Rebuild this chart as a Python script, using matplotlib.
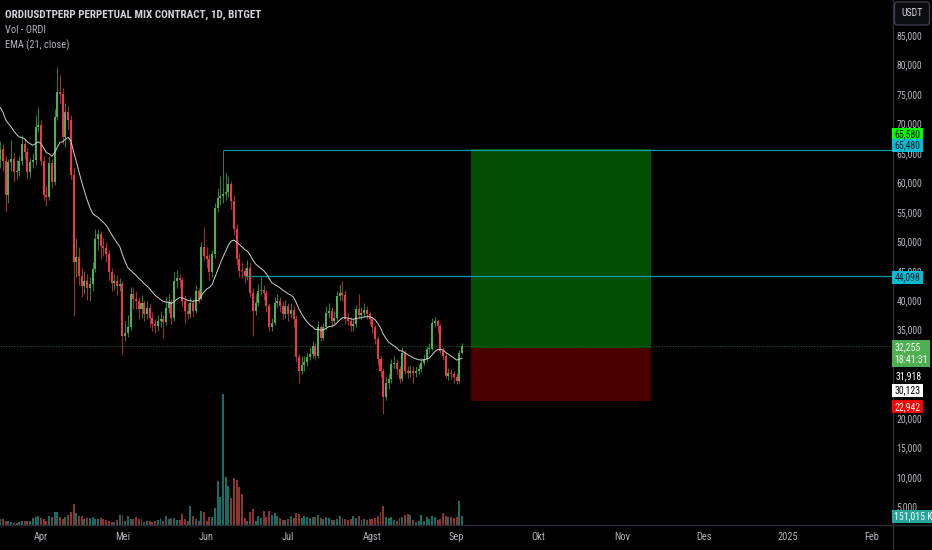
import numpy as np
import pandas as pd
import matplotlib
matplotlib.use("Agg")
import matplotlib.pyplot as plt
import matplotlib.dates as mdates
from matplotlib.patches import Rectangle, FancyBboxPatch
from matplotlib.lines import Line2D
from matplotlib.transforms import IdentityTransform

plt.rcParams['font.family'] = ['Roboto Condensed', 'Roboto', 'DejaVu Sans']

# ---- data (ORDI perp, daily) ----
start_date = "2024-03-17"
first_open = 64000
closes = [65700, 63700, 57800, 63400, 64000, 61800, 62000, 63700, 66500, 65100,
          61700, 63400, 63800, 69400, 69800, 63700, 57800, 57500, 63200, 60000,
          71100, 75400, 75000, 67700, 72000, 70500, 61300, 46400, 47300, 44100,
          42400, 43200, 42100, 42700, 45250, 50300, 51200, 49200, 48900, 47800,
          44700, 43000, 43300, 42400, 42700, 33950, 34500, 35400, 41000, 40200,
          39900, 38500, 39500, 37600, 38700, 37000, 35900, 35600, 36500, 36800,
          36300, 38600, 39700, 36900, 43300, 43700, 43500, 39900, 38200, 37600,
          39600, 38200, 41600, 40200, 49000, 47500, 47000, 44700, 47800, 55700,
          57400, 57700, 58000, 58300, 59700, 56800, 52000, 47000, 45000, 44900,
          44100, 45500, 41300, 38200, 39600, 41600, 41800, 41300, 39000, 35400,
          36200, 39600, 39800, 39000, 37600, 39000, 37600, 38300, 36800, 30300,
          28000, 29000, 29500, 30300, 30800, 32300, 30500, 35400, 33600, 35400,
          37900, 38200, 36500, 37000, 40700, 41300, 40800, 36800, 36500, 35600,
          35900, 38500, 37500, 37900, 38400, 37600, 36800, 35400, 33400, 30000,
          28000, 23500, 26000, 26600, 29100, 29400, 28300, 26600, 31100, 28000,
          27700, 28000, 27600, 28000, 28300, 29400, 30000, 31700, 31800, 36200,
          36500, 35600, 31400, 30600, 27200, 27700, 27500, 26900, 26300, 31100,
          32255]
highs = [67000, 66500, 64500, 64000, 67200, 65000, 63800, 64500, 68000, 67500,
         65800, 64200, 65000, 71500, 72800, 70500, 64500, 59500, 64500, 64000,
         72500, 79500, 78200, 76000, 73500, 73000, 71500, 62500, 50500, 49000,
         45500, 45000, 44500, 44000, 46500, 52000, 52000, 51800, 50500, 49800,
         48500, 45500, 44500, 44200, 43800, 43200, 36500, 37500, 42200, 42000,
         41500, 40500, 40800, 40000, 39800, 39500, 38000, 36800, 37500, 38200,
         37500, 40500, 41000, 40200, 44800, 45200, 44500, 44000, 40800, 39500,
         40500, 40200, 42500, 42000, 49800, 52500, 49000, 47800, 48500, 56500,
         59000, 61000, 65480, 61500, 61000, 60200, 57800, 53000, 48000, 46500,
         45500, 46800, 46500, 42000, 41000, 42800, 44000, 42500, 41800, 39500,
         37000, 40500, 41000, 40500, 39800, 40000, 39500, 39500, 39000, 37500,
         30800, 30500, 30500, 31000, 32000, 33000, 32800, 36500, 35800, 36200,
         39000, 39500, 38800, 38200, 41500, 42800, 43300, 41800, 37800, 37200,
         36800, 39200, 41000, 38800, 39500, 39000, 38200, 37200, 35800, 34000,
         30500, 28500, 27000, 27500, 30000, 30500, 30000, 28800, 32000, 31500,
         28800, 29000, 28800, 28800, 29200, 30200, 30800, 32300, 32800, 37000,
         37200, 36800, 36000, 32000, 31000, 28500, 28400, 28000, 27500, 31500,
         32800]
lows = [62500, 62000, 55000, 56500, 62000, 60000, 60500, 61000, 63000, 64000,
        60500, 60800, 62500, 63000, 68500, 63000, 57000, 56000, 57000, 59000,
        59500, 70500, 73500, 66500, 66000, 69000, 60500, 37300, 44000, 42500,
        40500, 41000, 40000, 39800, 41500, 44800, 48500, 47000, 47500, 46500,
        43500, 41500, 41800, 40800, 41500, 30800, 33000, 33800, 35000, 38500,
        38500, 36800, 37000, 36500, 36800, 35500, 34800, 34500, 34800, 35500,
        33500, 35800, 37800, 36000, 36500, 42000, 42000, 39000, 36000, 36800,
        37000, 37200, 37800, 39500, 40000, 46800, 45500, 43500, 44000, 47200,
        55000, 56200, 56500, 57000, 57500, 55500, 51000, 46000, 44000, 43800,
        43000, 43500, 40500, 34000, 37500, 39000, 40800, 40000, 38000, 34800,
        34800, 35800, 38800, 38000, 36800, 37000, 36500, 37000, 35500, 29500,
        26000, 27500, 28000, 28800, 29800, 30200, 29800, 30200, 33000, 33200,
        35000, 37000, 35500, 36000, 36500, 40000, 39800, 36000, 35800, 34800,
        34800, 35500, 37000, 36800, 37200, 36800, 36000, 34500, 32500, 29000,
        27000, 20700, 23000, 25000, 26000, 28500, 27500, 26000, 26300, 27500,
        26800, 27000, 26000, 27000, 27500, 27800, 29000, 29500, 31000, 31500,
        35500, 34500, 31000, 29800, 26800, 26500, 26600, 26000, 25800, 26000,
        30900]
# volume in millions
volumes = [95, 95, 73, 73, 45, 28, 39, 56, 67, 62,
           67, 73, 123, 134, 146, 112, 95, 62, 157, 140,
           218, 218, 134, 106, 140, 168, 213, 353, 202, 157,
           157, 95, 112, 118, 134, 95, 95, 112, 101, 78,
           73, 50, 56, 84, 168, 168, 73, 146, 95, 95,
           134, 95, 95, 56, 73, 67, 45, 73, 90, 118,
           73, 151, 95, 123, 118, 84, 78, 179, 95, 62,
           325, 146, 106, 73, 230, 218, 67, 134, 134, 280,
           745, 470, 2201, 806, 650, 448, 795, 750, 638, 521,
           112, 62, 213, 263, 73, 151, 123, 241, 129, 235,
           168, 196, 157, 118, 90, 90, 95, 157, 123, 207,
           190, 118, 151, 134, 123, 134, 140, 162, 123, 106,
           134, 118, 78, 84, 106, 151, 118, 106, 90, 106,
           151, 118, 146, 84, 101, 84, 106, 95, 123, 151,
           213, 325, 129, 118, 134, 90, 73, 123, 140, 162,
           179, 168, 84, 56, 73, 162, 73, 140, 95, 157,
           140, 90, 101, 202, 146, 134, 129, 123, 140, 409,
           151.015]
ema_seed = 73400  # EMA value at the left edge of the chart
ema_len = 21

month_ticks = ["2024-04-01", "2024-05-01", "2024-06-01", "2024-07-01", "2024-08-01",
               "2024-09-01", "2024-10-01", "2024-11-01", "2024-12-01", "2025-01-01",
               "2025-02-01"]
month_labels = ["Apr", "Mei", "Jun", "Jul", "Agst", "Sep", "Okt", "Nov", "Des", "2025", "Feb"]
price_ticks = list(range(5000, 90000, 5000))

level_high = 65480
level_mid = 44098
level_mid_start = "2024-06-15"
target = 65580
entry = 31918
stop = 22942
last_price = 32255
ema_value = 30123
countdown = "18:41:31"
box_start = "2024-09-06 08:00"
box_end = "2024-11-11 14:00"

# ---- colours ----
BG = "black"
TXT = "#b2b5be"
UP, DOWN = "#4caf50", "#f23645"
UP_WICK, DOWN_WICK = "#337a36", "#a02c34"
VOL_UP, VOL_DOWN = "#1a6b63", "#8b3431"
CYAN = "#0097a7"
LBL = 7

dates = pd.date_range(start_date, periods=len(closes))
x = mdates.date2num(dates)
closes = np.array(closes, float)
opens = np.r_[first_open, closes[:-1]]
up = closes >= opens

ema = []
e = ema_seed
for c in closes:
    e += (c - e) * 2 / (ema_len + 1)
    ema.append(e)

fig = plt.figure(figsize=(9.32, 5.5), dpi=100, facecolor=BG)
rect = [0, 25 / 550, 893 / 932, 525 / 550]
vax = fig.add_axes(rect, facecolor=BG)
ax = fig.add_axes(rect, sharex=vax)
ax.set_facecolor("none")

x0 = x[0] - 0.1
x1 = x[0] + 328.7
ax.set_xlim(x0, x1)
ax.set_ylim(1850, 90940)
vax.set_ylim(0, 8820)
vax.axis("off")

# volume
vax.bar(x, volumes, width=0.72, color=np.where(up, VOL_UP, VOL_DOWN), linewidth=0)

# trade box
bx0 = mdates.date2num(pd.Timestamp(box_start))
bx1 = mdates.date2num(pd.Timestamp(box_end))
ax.add_patch(Rectangle((bx0, entry), bx1 - bx0, target - entry, facecolor="#034f06",
                       edgecolor="none", zorder=1))
ax.add_patch(Rectangle((bx0, stop), bx1 - bx0, entry - stop, facecolor="#4b0000",
                       edgecolor="none", zorder=1))

# levels
hi_idx = highs.index(level_high)
ax.hlines(level_high, x[hi_idx], x1, color=CYAN, lw=0.9, zorder=2)
ax.hlines(level_mid, mdates.date2num(pd.Timestamp(level_mid_start)), x1, color=CYAN, lw=0.9, zorder=2)
ax.axhline(last_price, color="#1f5a28", lw=0.8, ls=(0, (1, 1.5)), zorder=2)

# candles
ax.vlines(x, lows, highs, colors=np.where(up, UP_WICK, DOWN_WICK), lw=0.8, zorder=3)
body_lo = np.minimum(opens, closes)
body_h = np.maximum(np.abs(closes - opens), 150)
ax.bar(x, body_h, bottom=body_lo, width=0.74, color=np.where(up, UP, DOWN), linewidth=0, zorder=4)

# EMA
ax.plot(x, ema, color="#cfcfcf", lw=0.7, zorder=5)

# axes styling
for s in ax.spines.values():
    s.set_visible(False)
ax.yaxis.tick_right()
ax.set_yticks(price_ticks)
ax.set_yticklabels([f"{p:,}" for p in price_ticks])
ax.tick_params(axis="y", length=0, pad=2.5, labelsize=LBL, labelcolor=TXT)
ax.set_xticks(mdates.date2num(pd.to_datetime(month_ticks)))
ax.set_xticklabels(month_labels)
ax.tick_params(axis="x", length=0, pad=5, labelsize=7.5, labelcolor=TXT)

fig.add_artist(Line2D([893 / 932, 893 / 932], [0, 1], color="#2a2e39", lw=1))
fig.add_artist(Line2D([0, 1], [25 / 550, 25 / 550], color="#2a2e39", lw=1))


def ypx(price):
    return 550 - ax.transData.transform((0, price))[1]


def tag(yc, text, face, color, w=31, top=6.5, bottom=6.5, sub=None):
    fig.add_artist(Rectangle((892 / 932, 1 - (yc + bottom) / 550), w / 932, (top + bottom) / 550,
                             transform=fig.transFigure, facecolor=face, edgecolor="none", zorder=5))
    fig.text(894.5 / 932, 1 - yc / 550, text, color=color, fontsize=LBL, va="center", ha="left", zorder=6)
    if sub:
        fig.text(894.5 / 932, 1 - (yc + 13) / 550, sub, color=color, fontsize=LBL, va="center", ha="left", zorder=6)


tag(ypx(target) - 15, f"{target:,}", "#00ff00", "black")
tag(ypx(level_high) - 4.5, f"{level_high:,}", "#00bcd4", "#0b1a1f")
tag(ypx(level_mid) + 1.5, f"{level_mid:,}", "#00bcd4", "#0b1a1f")
tag(ypx(last_price) + 1, f"{last_price:,}", "#4caf50", "white", w=38, top=7, bottom=20, sub=countdown)
fig.text(896 / 932, 1 - (ypx(entry) + 28) / 550, f"{entry:,}", color="white", fontsize=LBL,
         va="center", ha="left", zorder=6)
tag(ypx(ema_value) + 32, f"{ema_value:,}", "white", "black")
tag(ypx(stop) + 6, f"{stop:,}", "#ff0000", "white")
vol_y = 550 - vax.transData.transform((0, volumes[-1]))[1]
tag(vol_y, f"{volumes[-1] * 1000:,.0f} K", "#26a69a", "white", w=40)

# currency box
fig.add_artist(FancyBboxPatch((894.5, 550 - 25), 35, 23, boxstyle="round,pad=0,rounding_size=3",
                              transform=IdentityTransform(), facecolor="#0c0d10",
                              edgecolor="#3a3e49", lw=1, zorder=5))
fig.text(912 / 932, 1 - 13.5 / 550, "USDT", color="#d1d4dc", fontsize=LBL, ha="center", va="center", zorder=6)

# legend / header
fig.text(5 / 932, 1 - 15 / 550, "ORDIUSDTPERP PERPETUAL MIX CONTRACT, 1D, BITGET",
         color="#d1d4dc", fontsize=8, fontweight="bold", va="center", ha="left")
fig.text(5 / 932, 1 - 30 / 550, "Vol - ORDI", color=TXT, fontsize=7.5, va="center", ha="left")
fig.text(5 / 932, 1 - 45 / 550, "EMA (21, close)", color=TXT, fontsize=7.5, va="center", ha="left")

fig.savefig("out.png", dpi=100, facecolor=BG)
plt.close(fig)
